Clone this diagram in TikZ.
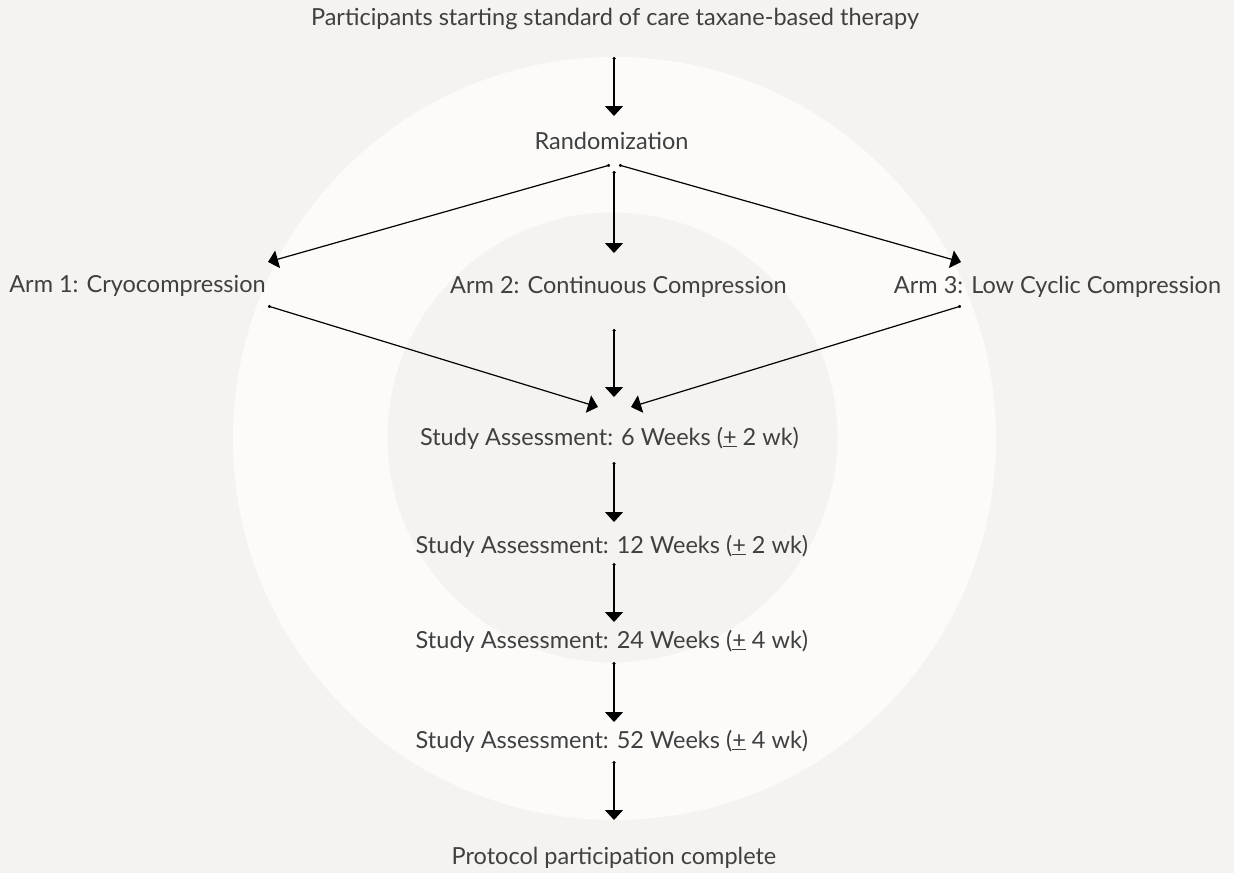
\documentclass[tikz,border=0pt]{standalone}
\usepackage{fontspec}
\setmainfont{Lato}
\usetikzlibrary{arrows.meta,calc}
\definecolor{bgcol}{HTML}{F5F3EF}
\definecolor{ringcol}{HTML}{FCFBFA}
\definecolor{txtcol}{HTML}{404040}
\begin{document}
\begin{tikzpicture}[x=1pt,y=-1pt,
  lbl/.style={anchor=base,inner sep=0pt,text=txtcol,font=\fontsize{23.5}{27}\selectfont},
  conn/.style={line width=1.2pt,{Circle[length=3pt]}-{Triangle[width=18pt,length=10pt]}}]
\fill[bgcol] (0,0) rectangle (1234,873);
\useasboundingbox (0,0) rectangle (1234,873);
\fill[ringcol] (614.5,438.5) circle[radius=381.5];
\fill[bgcol] (612.5,437.5) circle[radius=225];
\node[lbl] (title) at (615,25) {Participants starting standard of care taxane-based therapy};
\node[lbl] (rand) at (611.5,149) {Randomization};
\node[lbl] (arm1) at (137.5,292) {Arm 1: Cryocompression};
\node[lbl] (arm2) at (618.5,293) {Arm 2: Continuous Compression};
\node[lbl] (arm3) at (1057.5,293) {Arm 3: Low Cyclic Compression};
\node[lbl] (w6) at (609.5,445) {Study Assessment: 6 Weeks (\underline{+} 2 wk)};
\node[lbl] (w12) at (612,553) {Study Assessment: 12 Weeks (\underline{+} 2 wk)};
\node[lbl] (w24) at (612,648) {Study Assessment: 24 Weeks (\underline{+} 4 wk)};
\node[lbl] (w52) at (612,748) {Study Assessment: 52 Weeks (\underline{+} 4 wk)};
\node[lbl] (done) at (614,864) {Protocol participation complete};
\draw[conn] ($(title.base)+(-1,32)$) -- ($(rand.base)+(2.5,-33)$);
\draw[conn] ($(rand.base)+(-1.5,16)$) -- ($(arm1.base)+(130.5,-30)$);
\draw[conn] ($(rand.base)+(2.5,22)$) -- ($(arm2.base)+(-4.5,-40)$);
\draw[conn] ($(rand.base)+(7.5,16)$) -- ($(arm3.base)+(-96.5,-31)$);
\draw[conn] ($(arm1.base)+(130.5,14)$) -- ($(w6.base)+(-11.5,-38)$);
\draw[conn] ($(arm2.base)+(-4.5,36)$) -- ($(w6.base)+(4.5,-48)$);
\draw[conn] ($(arm3.base)+(-96.5,13)$) -- ($(w6.base)+(21.5,-38)$);
\draw[conn] ($(w6.base)+(4.5,17)$) -- ($(w12.base)+(2,-31)$);
\draw[conn] ($(w12.base)+(2,10)$) -- ($(w24.base)+(2,-26)$);
\draw[conn] ($(w24.base)+(2,14)$) -- ($(w52.base)+(2,-26)$);
\draw[conn] ($(w52.base)+(2,13)$) -- ($(done.base)+(0,-44)$);
\end{tikzpicture}
\end{document}
